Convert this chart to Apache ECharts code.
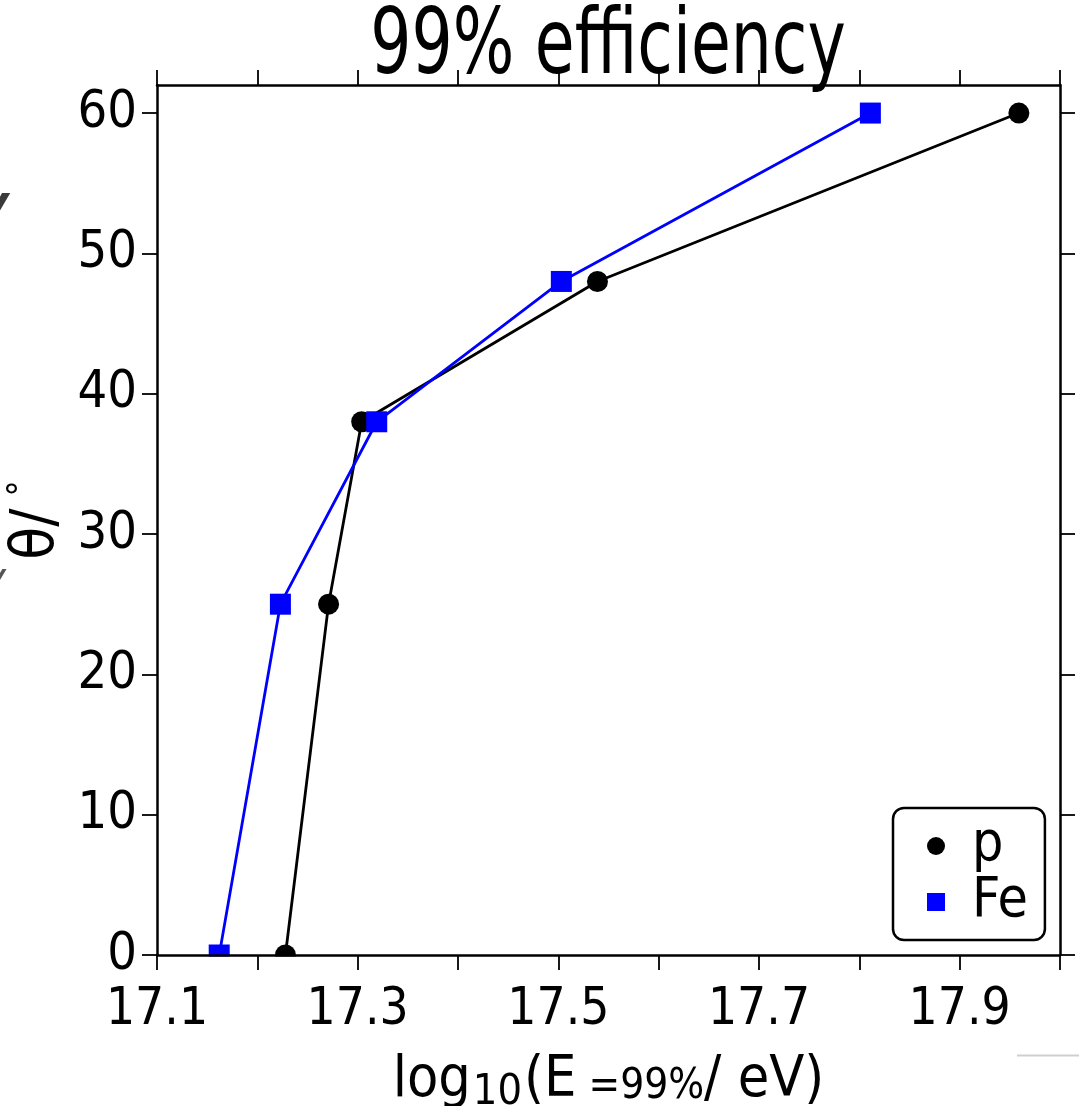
<!DOCTYPE html>
<html>
<head>
<meta charset="utf-8">
<script src="https://cdn.jsdelivr.net/npm/echarts@6/dist/echarts.min.js"></script>
<style>
  html, body { margin: 0; padding: 0; background: #ffffff; }
  #chart { width: 1088px; height: 1106px; }
</style>
</head>
<body>
<div id="chart"></div>
<script>
// Zenith angle reached at 99% trigger efficiency, per primary type
const protonEnergy = [17.228, 17.271, 17.304, 17.539, 17.959];
const protonTheta  = [0, 25, 38, 48, 60];
const ironEnergy   = [17.162, 17.223, 17.319, 17.503, 17.811];
const ironTheta    = [0, 25, 38, 48, 60];

// Axis ticks and labelled ticks
const xTicks      = [17.1, 17.2, 17.3, 17.4, 17.5, 17.6, 17.7, 17.8, 17.9, 18.0];
const xTickLabels = [17.1, 17.3, 17.5, 17.7, 17.9];
const yTicks      = [0, 10, 20, 30, 40, 50, 60];

const FONT = "'DejaVu Sans Condensed', 'DejaVu Sans', sans-serif";

const chart = echarts.init(document.getElementById('chart'), null, { renderer: 'canvas' });

const pairs = (xs, ys) => xs.map((x, i) => [x, ys[i]]);

const frameLine = { show: true, onZero: false, lineStyle: { color: '#000', width: 2.5 } };
const outerTick = (vals) => ({
  show: true, inside: false, length: 15,
  lineStyle: { color: '#000', width: 1.8 },
  customValues: vals
});

const option = {
  animation: false,
  backgroundColor: '#ffffff',
  grid: { left: 157, right: 28, top: 85, bottom: 151, containLabel: false, outerBoundsMode: 'none' },
  xAxis: [
    {
      type: 'value', position: 'bottom', min: 17.1, max: 18.0, interval: 0.1,
      axisLine: frameLine,
      axisTick: outerTick(xTicks),
      axisLabel: {
        customValues: xTickLabels,
        formatter: (v) => v.toFixed(1),
        fontFamily: FONT, fontSize: 51, color: '#000', margin: 30
      },
      splitLine: { show: false },
      name: '{m|log}{s10|10}{m|(E}{s99| =99%}{m|/ eV)}',
      nameLocation: 'middle', nameGap: 96,
      nameTextStyle: {
        rich: {
          m:   { fontFamily: FONT, fontSize: 57, lineHeight: 60, color: '#000' },
          // lowered subscript
          s10: { fontFamily: FONT, fontSize: 43, lineHeight: 30, padding: [24, 2, 0, 2], color: '#000' },
          // sits on the main baseline, smaller
          s99: { fontFamily: FONT, fontSize: 42, lineHeight: 44, padding: [12, 0, 0, 0], color: '#000' }
        }
      },
      z: 10
    },
    {
      type: 'value', position: 'top', min: 17.1, max: 18.0, interval: 0.1,
      axisLine: frameLine,
      axisTick: outerTick(xTicks),
      axisLabel: { show: false },
      splitLine: { show: false },
      z: 10
    }
  ],
  yAxis: [
    {
      type: 'value', position: 'left', min: 0, max: 62, interval: 10,
      axisLine: frameLine,
      axisTick: outerTick(yTicks),
      axisLabel: {
        customValues: yTicks,
        fontFamily: FONT, fontSize: 52, color: '#000', margin: 20
      },
      splitLine: { show: false },
      name: '{a|θ/}{b|°}',
      nameLocation: 'middle', nameRotate: 90, nameGap: 88,
      nameMoveOverlap: false,
      nameTextStyle: {
        rich: {
          a: { fontFamily: FONT, fontSize: 60, lineHeight: 64, color: '#000', padding: [0, 12, 0, 0] },
          b: { fontFamily: FONT, fontSize: 36, lineHeight: 40, verticalAlign: 'top', color: '#000' }
        }
      },
      z: 10
    },
    {
      type: 'value', position: 'right', min: 0, max: 62, interval: 10,
      axisLine: frameLine,
      axisTick: outerTick(yTicks),
      axisLabel: { show: false },
      splitLine: { show: false },
      z: 10
    }
  ],
  legend: {
    orient: 'vertical', left: 893, top: 808,
    padding: [10, 17, 10, 34],
    itemGap: 0, itemWidth: 18, itemHeight: 18,
    borderColor: '#000', borderWidth: 2.5, borderRadius: 11,
    backgroundColor: '#fff',
    textStyle: { fontFamily: FONT, fontSize: 55, lineHeight: 56, color: '#000', padding: [0, 0, 0, 22] },
    data: [
      { name: 'p', icon: 'circle' },
      { name: 'Fe', icon: 'rect' }
    ]
  },
  series: [
    {
      name: 'p', type: 'line', xAxisIndex: 0, yAxisIndex: 0,
      data: pairs(protonEnergy, protonTheta),
      symbol: 'circle', symbolSize: 21,
      itemStyle: { color: '#000' },
      lineStyle: { color: '#000', width: 2.8 },
      clip: false, z: 2
    },
    {
      name: 'Fe', type: 'line', xAxisIndex: 0, yAxisIndex: 0,
      data: pairs(ironEnergy, ironTheta),
      symbol: 'rect', symbolSize: 21,
      itemStyle: { color: '#0000ff' },
      lineStyle: { color: '#0000ff', width: 2.8 },
      clip: false, z: 3
    }
  ],
  graphic: [
    {
      type: 'text', x: 608, y: 50, scaleX: 0.8, z: 20,
      style: {
        text: '99% efficiency', fontFamily: FONT, fontSize: 90,
        fill: '#000', align: 'center', verticalAlign: 'middle'
      }
    },
    {
      // keeps markers sitting on the zero line from spilling below the frame
      type: 'rect', z: 5, silent: true,
      shape: { x: 158.5, y: 956.5, width: 900, height: 22 },
      style: { fill: '#ffffff' }
    },
    {
      type: 'text', x: -20, y: 206, z: 20, silent: true,
      style: { text: 'y', fontFamily: "'DejaVu Sans', sans-serif", fontSize: 44,
               fontWeight: 'bold', fontStyle: 'italic', fill: '#3a3a3a',
               align: 'left', verticalAlign: 'middle' }
    },
    {
      type: 'text', x: -20, y: 582, z: 20, silent: true,
      style: { text: 'y', fontFamily: "'DejaVu Sans', sans-serif", fontSize: 44,
               fontStyle: 'italic', fill: '#555555',
               align: 'left', verticalAlign: 'middle' }
    },
    {
      type: 'line', z: 20, silent: true,
      shape: { x1: 1017, y1: 1055.5, x2: 1079, y2: 1055.5 },
      style: { stroke: '#cfcfcf', lineWidth: 2 }
    }
  ]
};

chart.setOption(option);
</script>
</body>
</html>
